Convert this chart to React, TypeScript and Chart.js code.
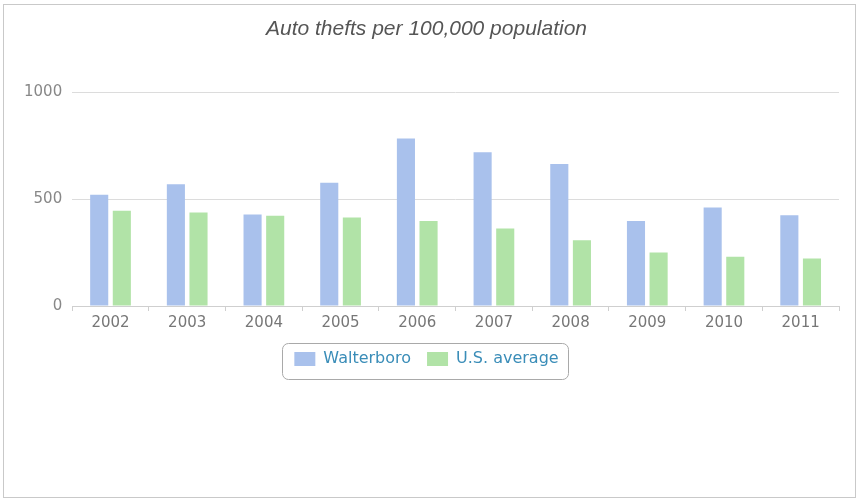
import React, { useEffect, useRef } from "react";
import { Chart, registerables } from "chart.js";

Chart.register(...registerables);

const title = "Auto thefts per 100,000 population";
const years = ["2002", "2003", "2004", "2005", "2006", "2007", "2008", "2009", "2010", "2011"];
const walterboro = [520, 570, 428, 577, 784, 719, 664, 398, 461, 425];
const usAverage = [445, 437, 422, 414, 398, 362, 308, 250, 230, 222];
const seriesNames = ["Walterboro", "U.S. average"];
const yTicks = [0, 500, 1000];

const legendBorder = {
  id: "legendBorder",
  afterDraw(chart: any) {
    const lg = chart.legend;
    if (!lg || !lg.legendHitBoxes || !lg.legendHitBoxes.length) return;
    const hb = lg.legendHitBoxes;
    let l = Infinity, r = -Infinity, t = Infinity, b = -Infinity;
    hb.forEach((h: any) => {
      l = Math.min(l, h.left);
      r = Math.max(r, h.left + h.width);
      t = Math.min(t, h.top);
      b = Math.max(b, h.top + h.height);
    });
    const ctx = chart.ctx;
    ctx.save();
    ctx.strokeStyle = "#a9a9a9";
    ctx.lineWidth = 1;
    ctx.beginPath();
    (ctx as any).roundRect(Math.round(l - 12) + 0.5, Math.round(t - 8) + 0.5, Math.round(r - l + 22), Math.round(b - t + 20), 6);
    ctx.stroke();
    ctx.restore();
  },
};

export default function App() {
  const ref = useRef<HTMLCanvasElement | null>(null);
  useEffect(() => {
    if (!ref.current) return;
    const chart = new Chart(ref.current, {
      type: "bar",
      data: {
        labels: years,
        datasets: [
          { label: seriesNames[0], data: walterboro, backgroundColor: "#a9c1ec", borderWidth: 0 },
          { label: seriesNames[1], data: usAverage, backgroundColor: "#b1e3a7", borderWidth: 0 },
        ],
      },
      options: {
        responsive: false,
        animation: false,
        layout: { padding: { left: 14, right: 20, top: 0, bottom: 125 } },
        datasets: { bar: { categoryPercentage: 0.59, barPercentage: 0.8 } },
        plugins: {
          title: {
            display: true,
            text: title,
            color: "#555",
            font: { family: "'Liberation Sans', Arial, sans-serif", size: 21, style: "italic", weight: "normal" },
            padding: { top: 17, bottom: 50 },
          },
          legend: {
            position: "bottom",
            labels: {
              boxWidth: 21,
              boxHeight: 14,
              padding: 16,
              color: "#3a8db8",
              font: { family: "'DejaVu Sans', sans-serif", size: 16 },
            },
          },
          tooltip: { enabled: false },
        },
        scales: {
          x: {
            grid: { display: true, drawOnChartArea: false, drawTicks: true, tickLength: 5, color: "#cfcfcf" },
            border: { display: true, color: "#cfcfcf" },
            ticks: { color: "#777", padding: 3, font: { family: "'DejaVu Sans', sans-serif", size: 15 } },
          },
          y: {
            min: 0,
            max: 1000,
            afterBuildTicks: (axis: any) => {
              axis.ticks = yTicks.map((v) => ({ value: v }));
            },
            grid: { color: "#dcdcdc", drawTicks: false },
            border: { display: false },
            ticks: {
              color: "#888",
              padding: 10,
              font: { family: "'DejaVu Sans', sans-serif", size: 15 },
              callback: (v: any) => String(v),
            },
          },
        },
      },
      plugins: [legendBorder],
    });
    return () => chart.destroy();
  }, []);
  return (
    <div style={{ position: "absolute", left: 0, top: 0, width: 859, height: 502, background: "#fff" }}>
      <div style={{ position: "absolute", left: 3, top: 4, width: 851, height: 492, border: "1px solid #c9c9c9" }} />
      <canvas ref={ref} width={859} height={502} style={{ position: "absolute", left: 0, top: 0 }} />
    </div>
  );
}
